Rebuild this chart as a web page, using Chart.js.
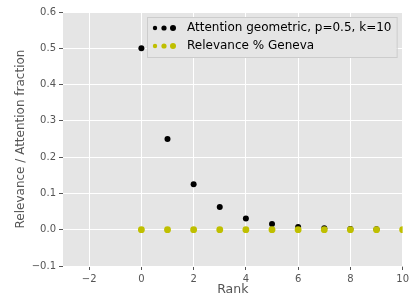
<!DOCTYPE html>
<html>
<head>
<meta charset="utf-8">
<script src="https://cdn.jsdelivr.net/npm/chart.js@4.4.1/dist/chart.umd.min.js"></script>
<style>
  html, body { margin: 0; padding: 0; background: #fff; }
  #wrap { width: 412px; height: 297px; }
</style>
</head>
<body>
<div id="wrap"><canvas id="chart" width="412" height="297"></canvas></div>
<script>
// data
const attentionRanks = [0, 1, 2, 3, 4, 5, 6, 7, 8, 9];
const attentionValues = [0.5, 0.25, 0.125, 0.0625, 0.03125, 0.015625, 0.0078, 0.0039, 0.002, 0.001];
const relevanceRanks = [0, 1, 2, 3, 4, 5, 6, 7, 8, 9, 10];
const relevanceValues = [0, 0, 0, 0, 0, 0, 0, 0, 0, 0, 0];
const xTicks = [-2, 0, 2, 4, 6, 8, 10];
const yTicks = [-0.1, 0.0, 0.1, 0.2, 0.3, 0.4, 0.5, 0.6];
const seriesLabels = ["Attention geometric, p=0.5, k=10", "Relevance % Geneva"];

const BLACK = "#000000";
const YELLOW = "#bfbf00";
const TEXT = "#555555";
const FONT = "'DejaVu Sans', sans-serif";

const toPoints = (xs, ys) => xs.map((x, i) => ({ x, y: ys[i] }));

const formatY = (v) => {
  const s = Math.abs(v).toFixed(1);
  return v < -1e-9 ? "\u2212" + s : s;
};
const formatX = (v) => (v < 0 ? "\u2212" + Math.abs(v) : String(v));

// gray plot background like the ggplot style
const plotBackground = {
  id: "plotBackground",
  beforeDraw(chart) {
    const { ctx, chartArea: a } = chart;
    ctx.save();
    ctx.fillStyle = "#e5e5e5";
    ctx.fillRect(a.left, a.top, a.right - a.left, a.bottom - a.top);
    ctx.restore();
  }
};

// legend box in the upper right with three scatter markers per entry
const scatterLegend = {
  id: "scatterLegend",
  afterDraw(chart) {
    const { ctx, chartArea: a } = chart;
    const colors = [BLACK, YELLOW];
    const right = a.right - 6;
    const left = 147;
    const top = a.top + 5;
    const h = 40;
    ctx.save();
    ctx.fillStyle = "#e5e5e5";
    ctx.strokeStyle = "#cccccc";
    ctx.lineWidth = 1;
    ctx.fillRect(left, top, right - left, h);
    ctx.strokeRect(left + 0.5, top + 0.5, right - left, h);
    const sizes = [2.2, 2.6, 3];
    seriesLabels.forEach((label, i) => {
      const cy = top + 11 + i * 18;
      ctx.fillStyle = colors[i];
      [155, 164, 173].forEach((cx, j) => {
        ctx.beginPath();
        ctx.arc(cx, cy, sizes[j], 0, Math.PI * 2);
        ctx.fill();
      });
      ctx.fillStyle = "#000";
      ctx.font = "12px " + FONT;
      ctx.textBaseline = "middle";
      ctx.textAlign = "left";
      ctx.fillText(label, 187, cy);
    });
    ctx.restore();
  }
};

// yellow series sits on top of the black one (lower order draws last)
new Chart(document.getElementById("chart"), {
  type: "scatter",
  data: {
    datasets: [
      {
        label: seriesLabels[0],
        data: toPoints(attentionRanks, attentionValues),
        backgroundColor: BLACK,
        borderWidth: 0,
        pointRadius: 3,
        order: 2
      },
      {
        label: seriesLabels[1],
        data: toPoints(relevanceRanks, relevanceValues),
        backgroundColor: YELLOW,
        borderWidth: 0,
        pointRadius: 3.4,
        order: 1
      }
    ]
  },
  options: {
    responsive: false,
    animation: false,
    layout: { padding: { top: 12, right: 7, left: 14, bottom: 0 } },
    scales: {
      x: {
        type: "linear",
        min: -3,
        max: 10,
        afterBuildTicks: (scale) => { scale.ticks = xTicks.map((value) => ({ value })); },
        afterFit: (scale) => { scale.height = 31; },
        grid: { color: "#ffffff", lineWidth: 1, drawTicks: true, tickLength: 4, tickColor: TEXT },
        border: { display: false },
        ticks: { color: TEXT, font: { family: FONT, size: 10 }, padding: 3, callback: formatX, maxRotation: 0 },
        title: { display: true, text: "Rank", color: TEXT, font: { family: FONT, size: 12.5 }, padding: { top: 0, bottom: 0 } }
      },
      y: {
        type: "linear",
        min: -0.1,
        max: 0.6,
        afterBuildTicks: (scale) => { scale.ticks = yTicks.map((value) => ({ value })); },
        afterFit: (scale) => { scale.width = 49; },
        grid: { color: "#ffffff", lineWidth: 1, drawTicks: true, tickLength: 4, tickColor: TEXT },
        border: { display: false },
        ticks: { color: TEXT, font: { family: FONT, size: 10 }, padding: 3, callback: formatY },
        title: { display: true, text: "Relevance / Attention fraction", color: TEXT, font: { family: FONT, size: 12 }, padding: { top: 0, bottom: 0 } }
      }
    },
    plugins: { legend: { display: false }, tooltip: { enabled: false } }
  },
  plugins: [plotBackground, scatterLegend]
});
</script>
</body>
</html>
